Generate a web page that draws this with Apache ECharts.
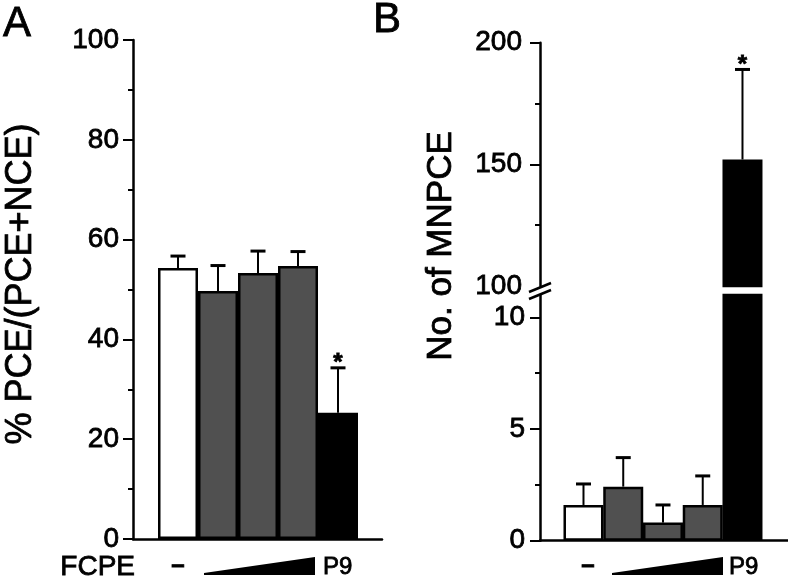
<!DOCTYPE html>
<html><head><meta charset="utf-8">
<script src="https://cdn.jsdelivr.net/npm/echarts@6/dist/echarts.min.js"></script>
<style>html,body{margin:0;padding:0;background:#fff}#c{width:788px;height:578px}</style>
</head><body><div id="c"></div>
<script>
// ---- data ----
const groups = ['Control', 'FCPE low', 'FCPE mid', 'FCPE high', 'P9'];
const xLabels = ['–', '', '', '', 'P9'];
const pctMean = [54.3, 49.7, 53.3, 54.7, 25.3];
const pctErr = [2.4, 5.1, 4.4, 2.9, 9.0];
const mnMean = [1.6, 2.42, 0.81, 1.6, 152];
const mnErr = [0.94, 1.3, 0.79, 1.3, 37];
const sig = ['', '', '', '', '*'];
const barColors = ['#ffffff', '#505050', '#505050', '#505050', '#000000'];
const pctTicks = [0, 20, 40, 60, 80, 100];
const mnUpperLabels = [100, 150, 200];
const mnUpperTicks = [150, 200];
const mnUpperMinor = [125, 175];
const mnLowerTicks = [0, 5, 10];
const mnLowerMinor = [2.5, 7.5];

const FONT = 'Liberation Sans, Arial, sans-serif';
const TB = 0.8; // slight text weight boost
const chart = echarts.init(document.getElementById('c'), null, {renderer: 'canvas'});

const barData = vals => vals.map((v, i) => ({value: [i, v], itemStyle: {color: barColors[i]}}));
const errData = (m, e) => m.map((v, i) => [i, v, e[i]]);

function txt(text, font, align, valign, extra) {
  return Object.assign({text: text, font: font, fill: '#000', stroke: '#000', lineWidth: TB,
    align: align, verticalAlign: valign, textAlign: align, textVerticalAlign: valign}, extra || {});
}

function errRender(ymin, ymax) {
  return function (params, api) {
    const i = params.dataIndex;
    const x = api.value(0), m = api.value(1), e = api.value(2);
    const t = m + e;
    if (m >= ymax || t <= ymin) return null;
    const pb = api.coord([x, Math.max(m, ymin)]);
    const pt = api.coord([x, Math.min(t, ymax)]);
    const ch = [{type: 'line', shape: {x1: pb[0], y1: pb[1], x2: pt[0], y2: pt[1]},
      style: {stroke: '#000', lineWidth: 2}}];
    if (t <= ymax) {
      ch.push({type: 'line', shape: {x1: pt[0] - 7.5, y1: pt[1], x2: pt[0] + 7.5, y2: pt[1]},
        style: {stroke: '#000', lineWidth: 3}});
      if (sig[i]) {
        ch.push({type: 'text', x: pt[0], y: pt[1] - 4,
          style: txt(sig[i], 'bold 24px ' + FONT, 'center', 'middle')});
      }
    }
    return {type: 'group', children: ch};
  };
}

const axLine = {show: true, onZero: false, lineStyle: {color: '#000', width: 2.5}};
const noLine = {show: false, onZero: false};
const axLabel = (margin, extra) => Object.assign({color: '#000', fontSize: 28, fontFamily: FONT, margin: margin,
  textBorderColor: '#000', textBorderWidth: TB}, extra || {});

function hiddenX(gi, min, max, showLine) {
  return {type: 'value', gridIndex: gi, min: min, max: max,
    axisLine: showLine ? {show: true, onZero: false, lineStyle: {color: '#000', width: 2.5}} : {show: false, onZero: false},
    axisTick: {show: false}, axisLabel: {show: false}, splitLine: {show: false}};
}

const option = {
  animation: false,
  backgroundColor: '#fff',
  grid: [
    {left: 133, top: 40, width: 249, height: 499},
    {left: 540, top: 42.7, width: 248, height: 243.3},
    {left: 540, top: 295, width: 248, height: 245.7}
  ],
  xAxis: [
    hiddenX(0, -1.125, 5.1, true),
    hiddenX(1, -1.094, 5.145, false),
    hiddenX(2, -1.094, 5.145, true)
  ],
  yAxis: [
    {type: 'value', gridIndex: 0, min: 0, max: 100, interval: 20, position: 'left',
      axisLine: axLine,
      axisTick: {show: true, length: 10, lineStyle: {color: '#000', width: 2}},
      minorTick: {show: true, splitNumber: 2, length: 5, lineStyle: {color: '#000', width: 2}},
      axisLabel: axLabel(14), splitLine: {show: false}, minorSplitLine: {show: false}},
    {type: 'value', gridIndex: 1, min: 100, max: 200, interval: 50, position: 'left',
      axisLine: axLine,
      axisTick: {show: true, length: 10, customValues: mnUpperTicks, lineStyle: {color: '#000', width: 2}},
      axisLabel: axLabel(18, {customValues: mnUpperLabels}), splitLine: {show: false}},
    {type: 'value', gridIndex: 1, min: 100, max: 200, position: 'left',
      axisLine: noLine,
      axisTick: {show: true, length: 5, customValues: mnUpperMinor, lineStyle: {color: '#000', width: 2}},
      axisLabel: {show: false}, splitLine: {show: false}},
    {type: 'value', gridIndex: 2, min: 0, max: 11, position: 'left',
      axisLine: axLine,
      axisTick: {show: true, length: 10, customValues: mnLowerTicks, lineStyle: {color: '#000', width: 2}},
      axisLabel: axLabel(15, {customValues: mnLowerTicks}), splitLine: {show: false}},
    {type: 'value', gridIndex: 2, min: 0, max: 11, position: 'left',
      axisLine: noLine,
      axisTick: {show: true, length: 5, customValues: mnLowerMinor, lineStyle: {color: '#000', width: 2}},
      axisLabel: {show: false}, splitLine: {show: false}}
  ],
  series: [
    {type: 'bar', xAxisIndex: 0, yAxisIndex: 0, barWidth: 40, clip: true,
      itemStyle: {borderColor: '#000', borderWidth: 2.5}, data: barData(pctMean)},
    {type: 'custom', xAxisIndex: 0, yAxisIndex: 0, renderItem: errRender(0, 100), data: errData(pctMean, pctErr), z: 5},
    {type: 'bar', xAxisIndex: 1, yAxisIndex: 1, barWidth: 40, clip: true,
      itemStyle: {borderColor: '#000', borderWidth: 2.5}, data: barData(mnMean)},
    {type: 'custom', xAxisIndex: 1, yAxisIndex: 1, renderItem: errRender(100, 200), data: errData(mnMean, mnErr), z: 5},
    {type: 'bar', xAxisIndex: 2, yAxisIndex: 3, barWidth: 40, clip: true,
      itemStyle: {borderColor: '#000', borderWidth: 2.5}, data: barData(mnMean)},
    {type: 'custom', xAxisIndex: 2, yAxisIndex: 3, renderItem: errRender(0, 11), data: errData(mnMean, mnErr), z: 5}
  ],
  graphic: [
    {type: 'text', x: 3, y: 24, style: txt('A', '42px ' + FONT, 'left', 'middle')},
    {type: 'text', x: 373, y: 20, style: txt('B', '42px ' + FONT, 'left', 'middle')},
    {type: 'text', x: 21, y: 284, rotation: Math.PI / 2, style: txt('% PCE/(PCE+NCE)', '36px ' + FONT, 'center', 'middle')},
    {type: 'text', x: 441, y: 246, rotation: Math.PI / 2, style: txt('No. of MNPCE', '35px ' + FONT, 'center', 'middle')},
    {type: 'text', x: 135, y: 567, style: txt('FCPE', '28px ' + FONT, 'right', 'middle')},
    // panel A x labels
    {type: 'text', x: 178, y: 565, style: txt(xLabels[0], 'bold 24px ' + FONT, 'center', 'middle')},
    {type: 'polygon', shape: {points: [[204, 573], [315, 557], [315, 575], [204, 575]]}, style: {fill: '#000'}},
    {type: 'text', x: 323, y: 567, style: txt(xLabels[4], '24px ' + FONT, 'left', 'middle')},
    // panel B x labels
    {type: 'text', x: 588, y: 565, style: txt(xLabels[0], 'bold 24px ' + FONT, 'center', 'middle')},
    {type: 'polygon', shape: {points: [[612, 573], [723, 557], [723, 575], [612, 575]]}, style: {fill: '#000'}},
    {type: 'text', x: 729, y: 567, style: txt(xLabels[4], '24px ' + FONT, 'left', 'middle')},
    // axis break marks
    {type: 'line', shape: {x1: 529, y1: 292, x2: 551, y2: 283}, style: {stroke: '#000', lineWidth: 2.5}},
    {type: 'line', shape: {x1: 529, y1: 299, x2: 551, y2: 290}, style: {stroke: '#000', lineWidth: 2.5}}
  ]
};
chart.setOption(option);
</script>
</body></html>
